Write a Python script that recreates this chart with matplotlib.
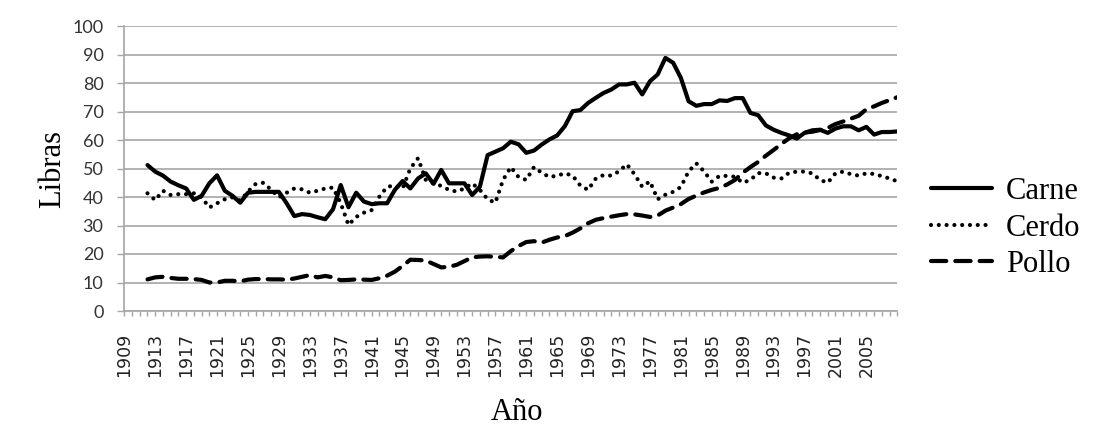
import numpy as np
import matplotlib
matplotlib.use("Agg")
import matplotlib.pyplot as plt

plt.rcParams["lines.scale_dashes"] = False

anios = np.arange(1912, 2010)

carne = [51.2, 48.9, 47.5, 45.4, 44.1, 43.0, 39.0, 40.4, 44.8, 47.6,
         42.2, 40.4, 38.0, 41.5, 41.8, 41.8, 41.8, 41.8, 37.8, 33.3,
         34.0, 33.7, 32.9, 32.2, 35.7, 44.2, 36.4, 41.5, 38.4, 37.5,
         37.8, 37.8, 42.5, 45.6, 43.0, 46.5, 48.3, 44.6, 49.5, 44.8,
         44.8, 44.8, 40.7, 43.6, 54.7, 55.9, 57.1, 59.4, 58.5, 55.5,
         56.3, 58.4, 60.2, 61.6, 64.9, 70.1, 70.5, 73.0, 74.8, 76.5,
         77.7, 79.5, 79.5, 80.1, 76.0, 80.6, 83.0, 88.8, 87.1, 81.8,
         73.6, 72.0, 72.6, 72.6, 73.9, 73.7, 74.7, 74.7, 69.5, 68.7,
         65.1, 63.6, 62.5, 61.6, 60.5, 62.5, 63.4, 63.6, 62.5, 64.0,
         64.8, 64.8, 63.4, 64.6, 61.9, 62.8, 62.8, 63.0]

cerdo = [41.3, 38.9, 42.2, 40.7, 41.0, 41.0, 41.3, 39.9, 36.3, 37.8,
         39.2, 39.9, 38.7, 41.9, 44.6, 45.0, 42.5, 39.9, 41.5, 43.0,
         42.7, 41.5, 42.2, 43.0, 43.3, 37.8, 30.2, 33.0, 34.5, 35.4,
         40.1, 43.6, 44.0, 43.0, 50.0, 53.6, 46.0, 44.8, 43.9, 42.5,
         41.9, 43.0, 44.8, 42.5, 39.2, 38.0, 46.0, 50.5, 47.0, 46.0,
         50.5, 48.5, 47.0, 47.5, 48.3, 47.5, 44.0, 42.5, 46.5, 47.7,
         47.5, 49.0, 51.5, 48.0, 43.6, 45.5, 39.2, 40.8, 41.8, 43.5,
         49.0, 51.8, 49.0, 45.4, 47.4, 47.4, 47.1, 45.0, 46.0, 48.4,
         48.3, 46.8, 46.5, 48.5, 48.9, 48.9, 48.3, 46.0, 45.0, 48.3,
         48.9, 48.0, 47.5, 48.3, 48.1, 47.3, 46.5, 45.5]

pollo = [11.1, 11.8, 12.0, 11.6, 11.3, 11.3, 11.2, 10.9, 10.0, 10.0,
         10.6, 10.6, 10.4, 11.0, 11.2, 11.2, 11.1, 11.1, 11.0, 11.4,
         12.0, 12.6, 11.8, 12.3, 11.8, 10.8, 10.9, 11.1, 11.0, 10.9,
         11.5, 12.4, 13.8, 15.8, 18.0, 17.9, 17.7, 16.5, 15.3, 15.5,
         16.2, 17.5, 18.8, 19.1, 19.2, 19.0, 18.8, 21.0, 22.8, 24.2,
         24.5, 24.0, 25.0, 25.8, 26.3, 27.5, 29.0, 30.8, 32.0, 32.6,
         33.1, 33.6, 34.0, 33.9, 33.5, 33.0, 33.5, 35.2, 36.3, 37.5,
         39.3, 40.5, 41.6, 42.5, 43.2, 44.4, 46.0, 48.5, 50.5, 52.3,
         54.5, 56.5, 58.6, 60.6, 62.0, 62.6, 62.9, 63.5, 64.2, 65.6,
         66.5, 67.5, 68.5, 70.8, 71.8, 73.0, 74.0, 75.0]

etiquetas_x = list(range(1909, 2006, 4))

gris = "#a6a6a6"
serif = ["Liberation Serif", "DejaVu Serif"]

fig = plt.figure(figsize=(10.95, 4.44), dpi=100)
ax = fig.add_axes([124.3 / 1095, 1 - 311 / 444, 773 / 1095, 285 / 444])

ax.plot(anios, carne, color="black", lw=3.0, solid_joinstyle="round",
        solid_capstyle="round", label="Carne")
ax.plot(anios, cerdo, color="black", lw=3.0, linestyle=(0, (0.01, 5.6)),
        dash_capstyle="round", label="Cerdo")
ax.plot(anios, pollo, color="black", lw=3.0, linestyle=(0, (11, 6.5)),
        dash_capstyle="round", label="Pollo")

ax.set_xlim(1909, 2009)
ax.set_ylim(0, 100)
ax.set_yticks(range(0, 101, 10))
ax.set_xticks(etiquetas_x)
ax.set_xticks(range(1909, 2010), minor=True)
ax.set_xticklabels([str(a) for a in etiquetas_x], rotation=90,
                   fontsize=12.5, family="DejaVu Sans", color="#222222")
for t in ax.get_yticklabels():
    t.set_family(["Lato", "DejaVu Sans"])
    t.set_fontsize(13)
    t.set_color("#333333")

ax.grid(axis="y", color=gris, lw=1.2)
ax.set_axisbelow(True)
for lado in ["top", "right"]:
    ax.spines[lado].set_visible(False)
for lado in ["left", "bottom"]:
    ax.spines[lado].set_color(gris)
    ax.spines[lado].set_linewidth(1.2)

ax.tick_params(axis="y", direction="out", length=5, width=1, color=gris, pad=10)
ax.tick_params(axis="x", which="both", direction="out", length=3.6, width=1,
               color=gris, pad=12)

ax.set_ylabel("Libras", family=serif, fontsize=22, labelpad=4)
fig.text(517 / 1095, 1 - 420 / 444, "Año", family=serif, fontsize=22,
         ha="center", va="baseline")

fig.legend(loc="center left", bbox_to_anchor=(931 / 1095, 1 - 228 / 444),
           frameon=False, prop={"family": serif, "size": 22},
           handlelength=2.0, handletextpad=0.45, labelspacing=0.25,
           borderpad=0, borderaxespad=0)

plt.savefig("out.png", dpi=100)
